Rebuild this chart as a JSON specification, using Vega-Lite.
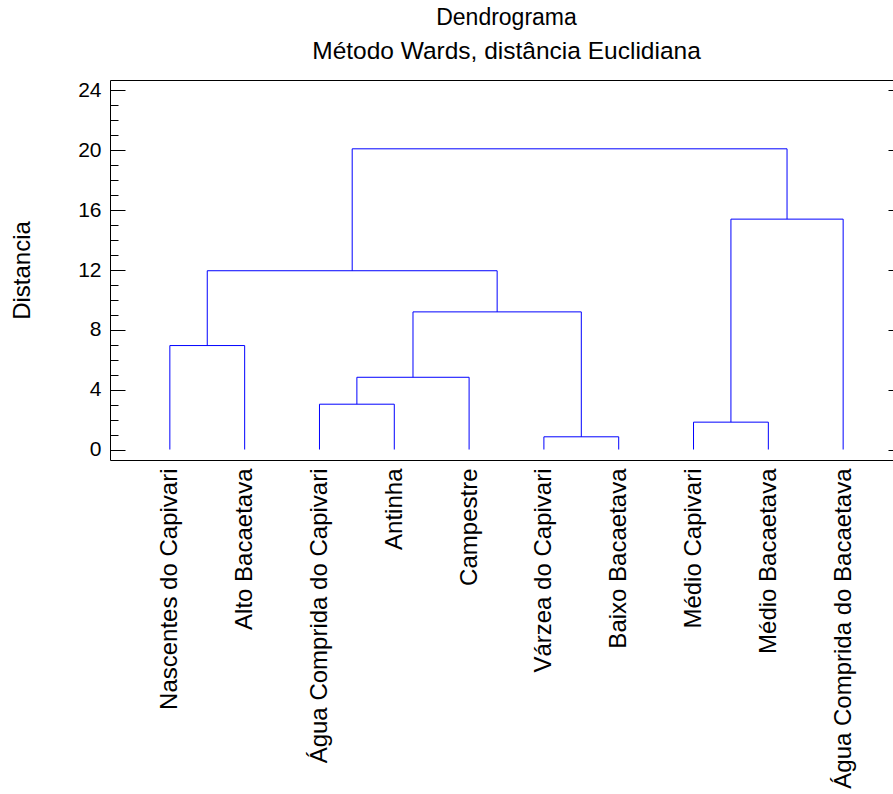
{
  "$schema": "https://vega.github.io/schema/vega-lite/v6.json",
  "autosize": {"type": "none"},
  "padding": {"left": 110, "top": 80, "right": -10, "bottom": 334},
  "width": 793,
  "height": 380,
  "title": {
    "text": "Dendrograma",
    "subtitle": "Método Wards, distância Euclidiana",
    "anchor": "middle",
    "font": "Liberation Sans",
    "fontSize": 23,
    "fontWeight": "normal",
    "color": "black",
    "subtitleFont": "Liberation Sans",
    "subtitleFontSize": 24.5,
    "subtitleColor": "black",
    "subtitlePadding": 10,
    "offset": 16
  },
  "datasets": {
    "verticals": [
      {"x": 0, "y": 0, "y2": 6.95},
      {"x": 1, "y": 0, "y2": 6.95},
      {"x": 2, "y": 0, "y2": 3.03},
      {"x": 3, "y": 0, "y2": 3.03},
      {"x": 2.5, "y": 3.03, "y2": 4.83},
      {"x": 4, "y": 0, "y2": 4.83},
      {"x": 5, "y": 0, "y2": 0.85},
      {"x": 6, "y": 0, "y2": 0.85},
      {"x": 3.25, "y": 4.83, "y2": 9.2},
      {"x": 5.5, "y": 0.85, "y2": 9.2},
      {"x": 0.5, "y": 6.95, "y2": 11.95},
      {"x": 4.375, "y": 9.2, "y2": 11.95},
      {"x": 7, "y": 0, "y2": 1.83},
      {"x": 8, "y": 0, "y2": 1.83},
      {"x": 7.5, "y": 1.83, "y2": 15.4},
      {"x": 9, "y": 0, "y2": 15.4},
      {"x": 2.4375, "y": 11.95, "y2": 20.1},
      {"x": 8.25, "y": 15.4, "y2": 20.1}
    ],
    "horizontals": [
      {"x": 0, "x2": 1, "y": 6.95},
      {"x": 2, "x2": 3, "y": 3.03},
      {"x": 2.5, "x2": 4, "y": 4.83},
      {"x": 5, "x2": 6, "y": 0.85},
      {"x": 3.25, "x2": 5.5, "y": 9.2},
      {"x": 0.5, "x2": 4.375, "y": 11.95},
      {"x": 7, "x2": 8, "y": 1.83},
      {"x": 7.5, "x2": 9, "y": 15.4},
      {"x": 2.4375, "x2": 8.25, "y": 20.1}
    ]
  },
  "config": {
    "view": {"stroke": null},
    "axis": {
      "domainColor": "black",
      "domainWidth": 1,
      "tickColor": "black",
      "tickWidth": 1,
      "labelColor": "black",
      "labelFont": "Liberation Sans",
      "titleFont": "Liberation Sans",
      "titleFontWeight": "normal",
      "titleColor": "black",
      "grid": false
    }
  },
  "layer": [
    {
      "data": {"name": "verticals"},
      "mark": {"type": "rule", "color": "#0000ff", "strokeWidth": 1},
      "encoding": {
        "x": {
          "field": "x",
          "type": "quantitative",
          "scale": {"domain": [-0.8, 9.8], "nice": false, "zero": false},
          "axis": {
            "orient": "bottom",
            "values": [0, 1, 2, 3, 4, 5, 6, 7, 8, 9],
            "ticks": false,
            "title": null,
            "labelAngle": -90,
            "labelAlign": "right",
            "labelBaseline": "middle",
            "labelFontSize": 24,
            "labelPadding": 8,
            "labelLimit": 0,
            "labelOverlap": false,
            "labelFlush": false,
            "labelBound": false,
            "labelExpr": "['Nascentes do Capivari','Alto Bacaetava','Água Comprida do Capivari','Antinha','Campestre','Várzea do Capivari','Baixo Bacaetava','Médio Capivari','Médio Bacaetava','Água Comprida do Bacaetava'][datum.value]"
          }
        },
        "y": {
          "field": "y",
          "type": "quantitative",
          "scale": {"domain": [-0.7, 24.7], "nice": false, "zero": false},
          "axis": {
            "orient": "left",
            "values": [0, 1, 2, 3, 4, 5, 6, 7, 8, 9, 10, 11, 12, 13, 14, 15, 16, 17, 18, 19, 20, 21, 22, 23, 24],
            "tickSize": {"condition": {"test": "datum.value % 4 === 0", "value": -15}, "value": -8},
            "labelExpr": "datum.value % 4 === 0 ? datum.label : ''",
            "labelFontSize": 21,
            "labelPadding": 24,
            "labelOverlap": false,
            "labelFlush": false,
            "title": "Distancia",
            "titleFontSize": 24,
            "titlePadding": 43
          }
        },
        "y2": {"field": "y2"}
      }
    },
    {
      "data": {"name": "horizontals"},
      "mark": {"type": "rule", "color": "#0000ff", "strokeWidth": 1},
      "encoding": {
        "x": {
          "field": "x",
          "type": "quantitative",
          "axis": {
            "orient": "top",
            "labels": false,
            "ticks": false,
            "title": null
          }
        },
        "x2": {"field": "x2"},
        "y": {
          "field": "y",
          "type": "quantitative",
          "axis": {
            "orient": "right",
            "values": [0, 4, 8, 12, 16, 20, 24],
            "domain": false,
            "labels": false,
            "tickSize": -15,
            "title": null
          }
        }
      }
    }
  ],
  "resolve": {"axis": {"x": "independent", "y": "independent"}}
}
